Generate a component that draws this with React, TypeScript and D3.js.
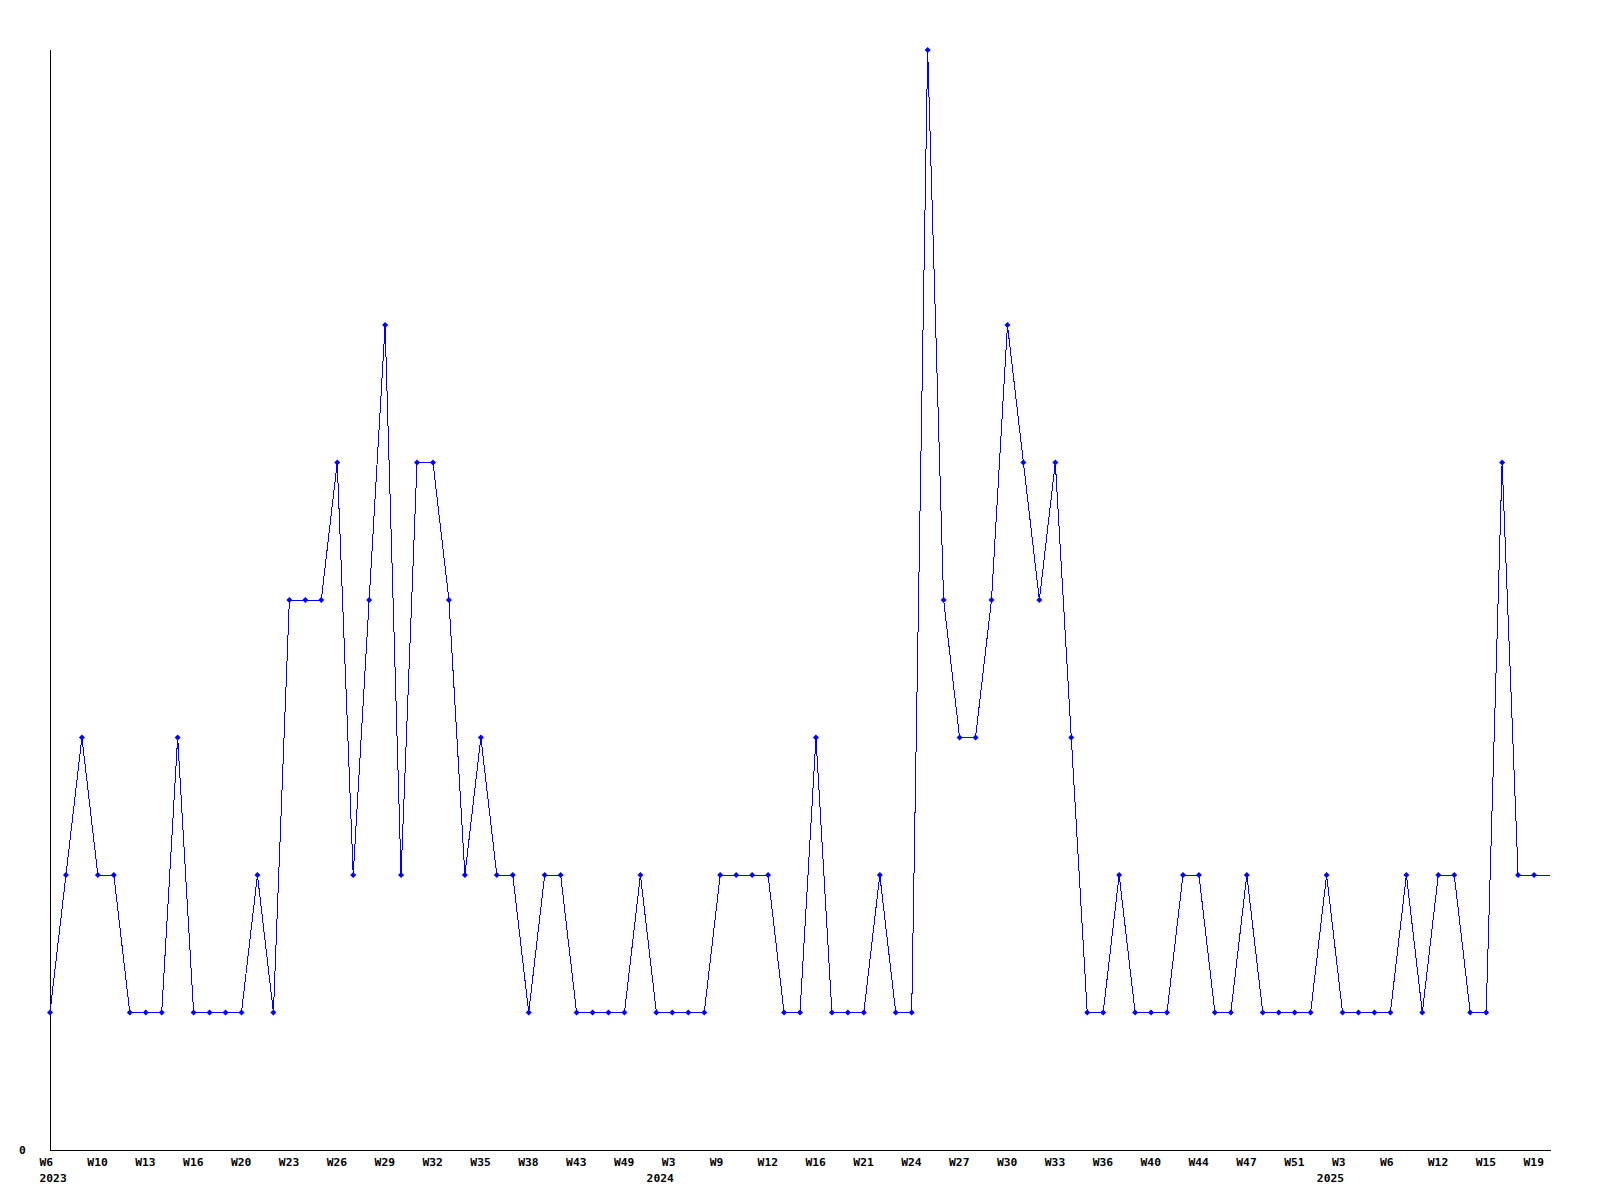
import React from "react";
import * as d3 from "d3";

// Weekly counts, one value per data point (95 points, 2023 W6 .. 2025 W20)
const values: number[] = [
  1, 2, 3, 2, 2, 1, 1, 1, 3, 1,
  1, 1, 1, 2, 1, 4, 4, 4, 5, 2,
  4, 6, 2, 5, 5, 4, 2, 3, 2, 2,
  1, 2, 2, 1, 1, 1, 1, 2, 1, 1,
  1, 1, 2, 2, 2, 2, 1, 1, 3, 1,
  1, 1, 2, 1, 1, 8, 4, 3, 3, 4,
  6, 5, 4, 5, 3, 1, 1, 2, 1, 1,
  1, 2, 2, 1, 1, 2, 1, 1, 1, 1,
  2, 1, 1, 1, 1, 2, 1, 2, 2, 1,
  1, 5, 2, 2, 2,
];

// Tick labels shown on every 3rd point
const tickLabels: string[] = [
  "W6", "W10", "W13", "W16", "W20", "W23", "W26", "W29", "W32", "W35", "W38",
  "W43", "W49", "W3", "W9", "W12", "W16", "W21", "W24", "W27", "W30", "W33",
  "W36", "W40", "W44", "W47", "W51", "W3", "W6", "W12", "W15", "W19",
];
const tickStep = 3;

// Year captions under specific tick labels (index into tickLabels)
const yearLabels: string[] = ["2023", "2024", "2025"];
const yearTickIndex: number[] = [0, 13, 27];

const yTickValues: number[] = [0];

const W = 1600;
const H = 1200;
const left = 50;
const right = 1550;
const top = 50;
const bottom = 1150;
const FONT = "'DejaVu Sans Mono', 'Liberation Mono', monospace";
const FS = 11.3;
const BLUE = "#0000ff";

export default function App() {
  const x = d3.scaleLinear().domain([0, values.length - 1]).range([left, right]);
  const y = d3.scaleLinear().domain([0, 8]).range([bottom, top]);

  const line = d3
    .line<number>()
    .x((_, i) => x(i))
    .y((d) => y(d));

  return (
    <svg
      width={W}
      height={H}
      style={{ position: "absolute", left: 0, top: 0, background: "#fff" }}
      xmlns="http://www.w3.org/2000/svg"
    >
      <rect x={0} y={0} width={W} height={H} fill="#fff" />
      {/* axes */}
      <line x1={left + 0.5} x2={left + 0.5} y1={top} y2={bottom + 0.5} stroke="#000" strokeWidth={1} shapeRendering="crispEdges" />
      <line x1={left} x2={right + 1} y1={bottom + 0.5} y2={bottom + 0.5} stroke="#000" strokeWidth={1} shapeRendering="crispEdges" />

      {/* y tick labels */}
      {yTickValues.map((v) => (
        <text
          key={"y" + v}
          x={22.5}
          y={y(v) + 3.5}
          textAnchor="middle"
          fontFamily={FONT}
          fontWeight="bold"
          fontSize={FS}
          fill="#000"
        >
          {v}
        </text>
      ))}

      {/* x tick labels */}
      {tickLabels.map((t, i) => (
        <text
          key={"x" + i}
          x={x(i * tickStep) - 10.5}
          y={1166}
          textAnchor="start"
          fontFamily={FONT}
          fontWeight="bold"
          fontSize={FS}
          fill="#000"
        >
          {t}
        </text>
      ))}

      {/* year captions */}
      {yearLabels.map((yl, k) => {
        const px = x(yearTickIndex[k] * tickStep);
        const first = yearTickIndex[k] === 0;
        return (
          <text
            key={"yr" + k}
            x={first ? px - 10.5 : px + 1.5}
            y={1181.5}
            textAnchor={first ? "start" : "end"}
            fontFamily={FONT}
            fontWeight="bold"
            fontSize={FS}
            fill="#000"
          >
            {yl}
          </text>
        );
      })}

      {/* data line */}
      <path d={line(values) || ""} fill="none" stroke={BLUE} strokeWidth={1} shapeRendering="crispEdges" />

      {/* markers */}
      {values.slice(0, values.length - 1).map((v, i) => {
        const cx = x(i);
        const cy = y(v);
        return (
          <path
            key={"m" + i}
            d={`M${cx - 3},${cy} L${cx},${cy - 3} L${cx + 3},${cy} L${cx},${cy + 3} Z`}
            fill={BLUE}
            stroke="none"
          />
        );
      })}
    </svg>
  );
}
